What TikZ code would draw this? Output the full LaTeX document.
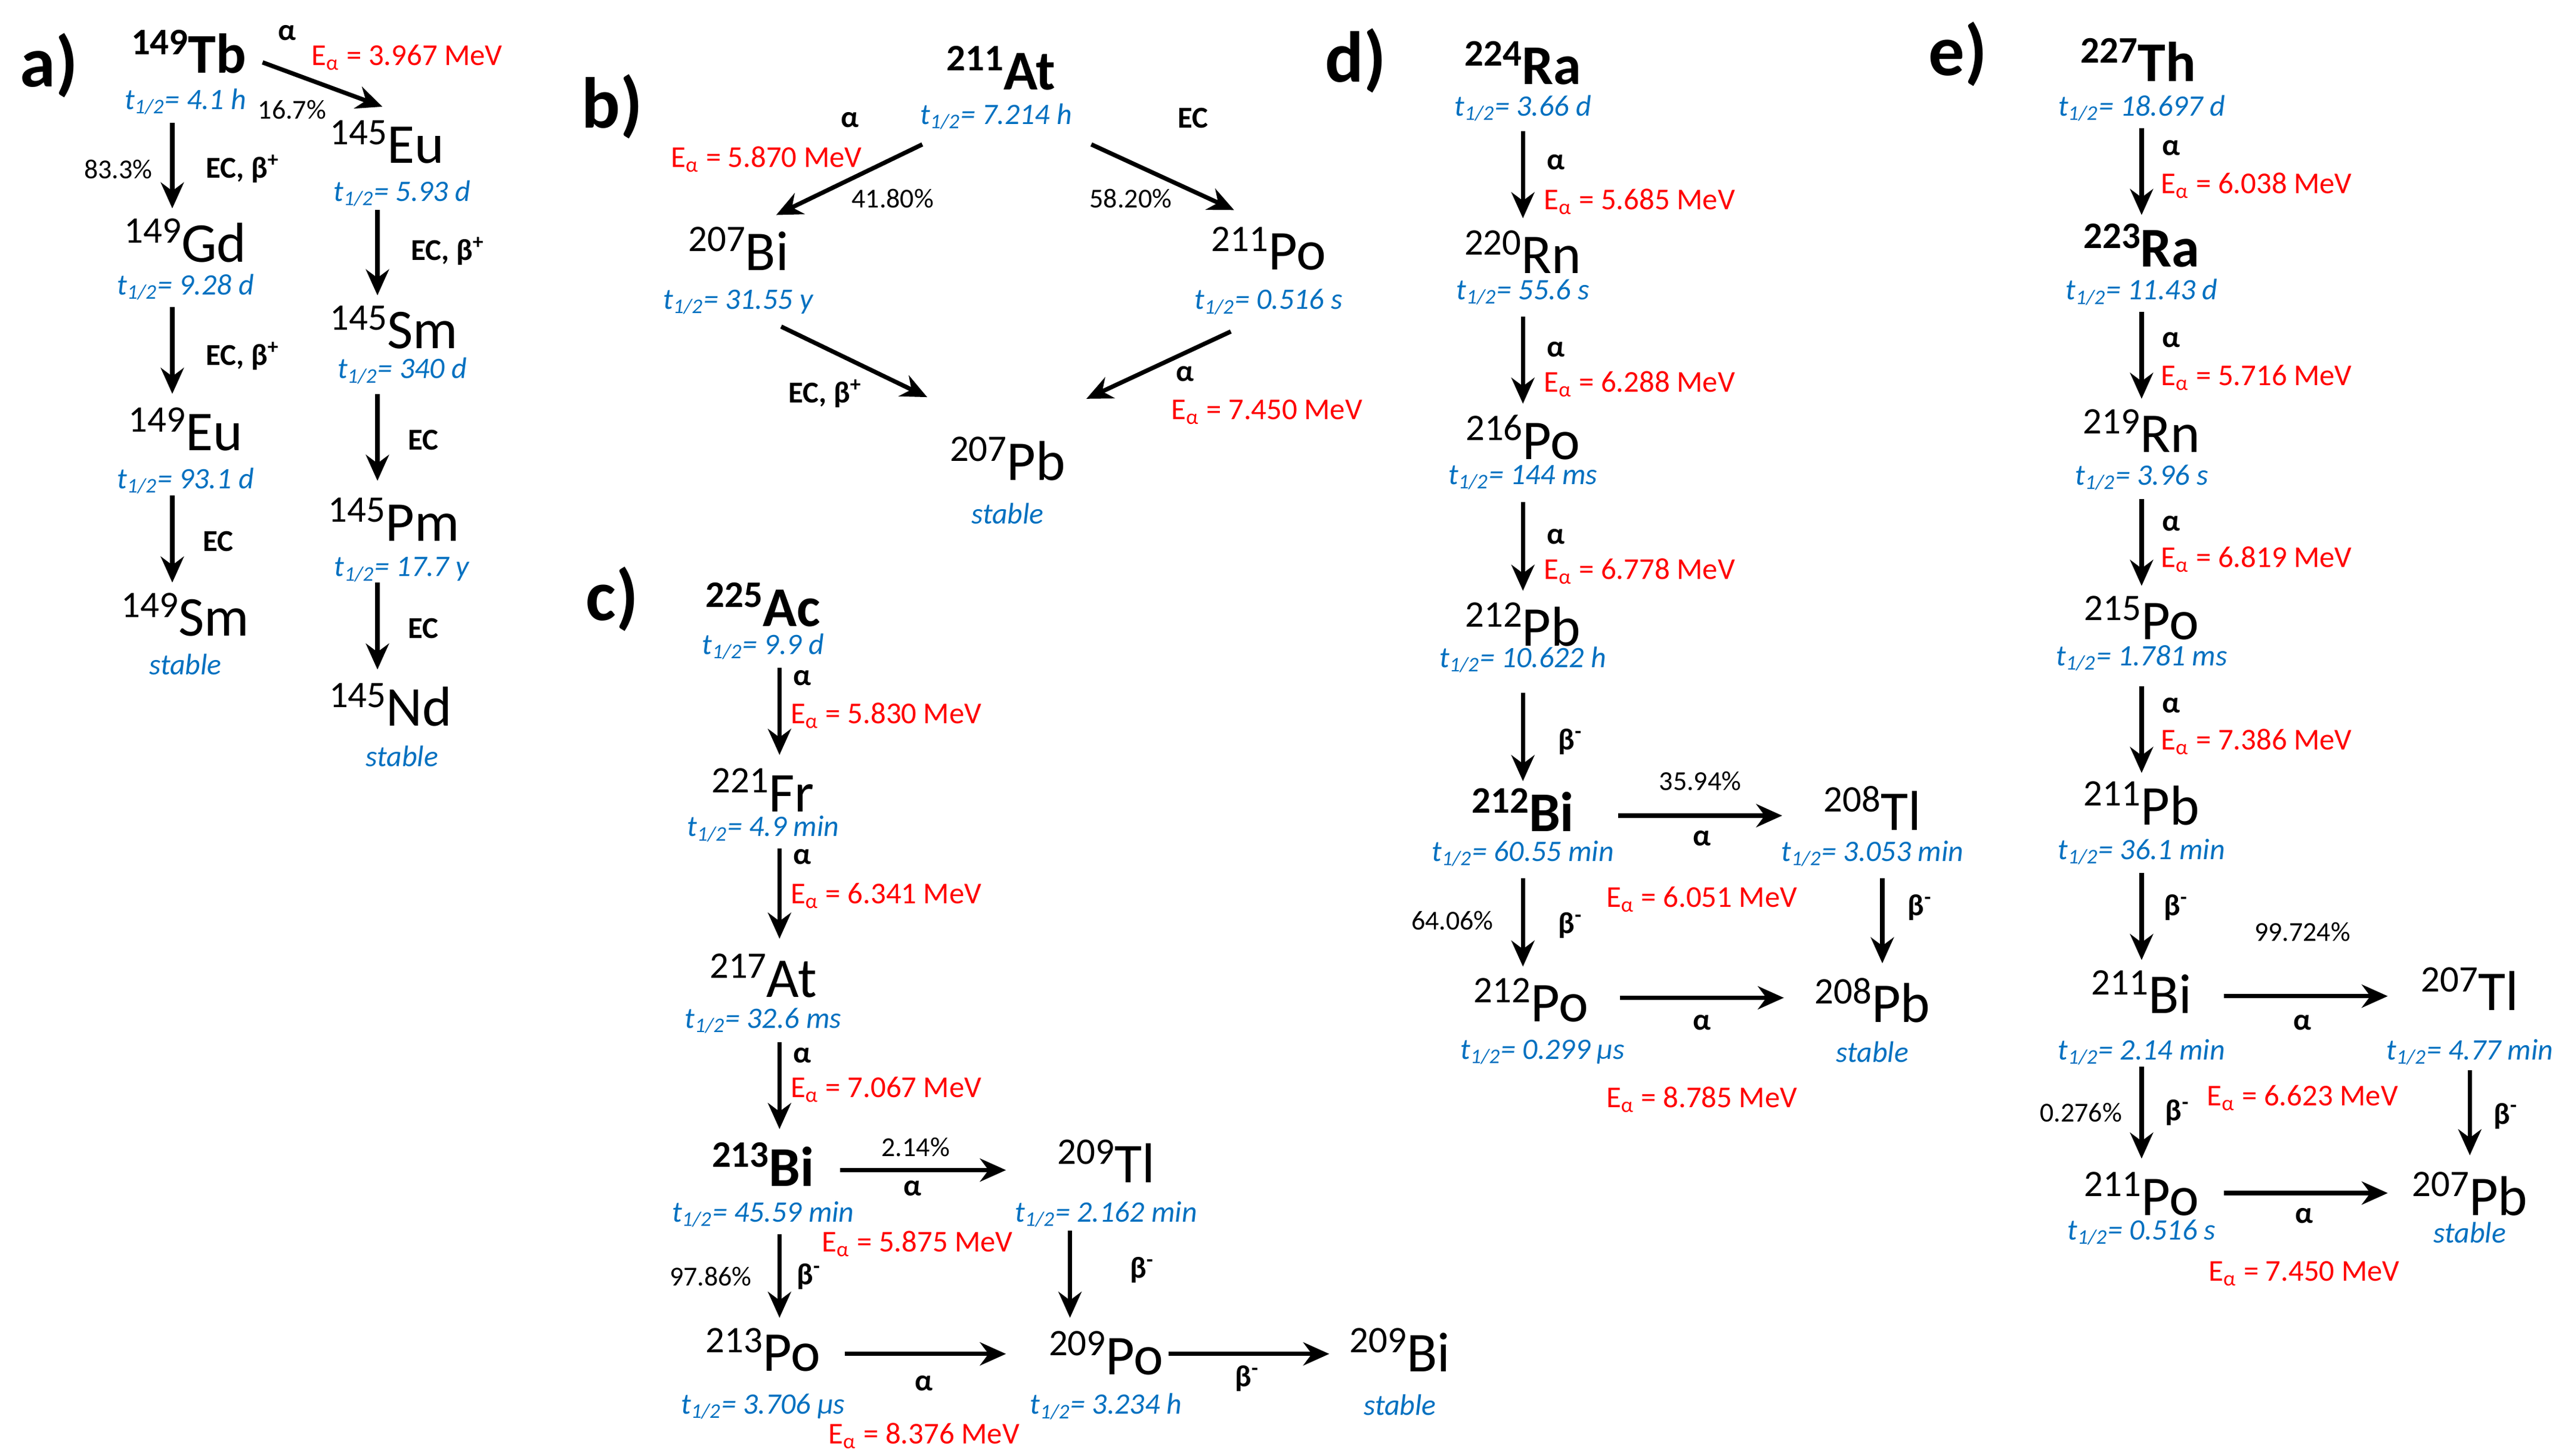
\documentclass[tikz,border=0pt]{standalone}
\usepackage{fontspec}
\setmainfont{Carlito}
\usetikzlibrary{arrows.meta}
\definecolor{hlb}{RGB}{0,112,192}
\definecolor{ear}{RGB}{255,0,0}
\newcommand{\nuc}[2]{{\fontsize{13}{13}\selectfont\raisebox{6.5pt}{#1}}#2}
\newcommand{\hlt}[1]{\textit{t\textsubscript{1/2}}\textit{= #1}}
\newcommand{\ea}[1]{E\textsubscript{α} = #1 MeV}
\begin{document}
\begin{tikzpicture}[x=0.02cm,y=-0.02cm,
  nu/.style={inner sep=0,yshift=0.07cm,font=\fontsize{19.5}{19.5}\selectfont},
  nub/.style={nu,font=\fontsize{19.5}{19.5}\selectfont\bfseries},
  hl/.style={inner sep=0,text=hlb,font=\fontsize{10.3}{10.3}\selectfont},
  ea/.style={inner sep=0,text=ear,font=\fontsize{10.5}{10.5}\selectfont},
  lb/.style={inner sep=0,font=\fontsize{10.5}{10.5}\selectfont\bfseries},
  pc/.style={inner sep=0,font=\fontsize{9.5}{9.5}\selectfont},
  pl/.style={inner sep=0,font=\fontsize{25}{25}\selectfont\bfseries},
  arr/.style={line width=1.5pt,-{Stealth[length=9pt,width=8pt]}}]
\useasboundingbox (0,0) rectangle (1563,887);
% ---------- a
\node[pl] (la) at (30,40) {a)};
\node[nub] (tb) at (115,35) {\nuc{149}{Tb}};
\node[hl] (tbh) at (113,62) {\hlt{4.1 h}};
\node[lb] (tba) at (175,20) {α};
\node[ea] (tbe) at (248,35) {\ea{3.967}};
\node[pc] (tbp) at (178,67) {16.7\%};
\draw[arr] (160,38) -- (233,65);
\node[nu] (eu145) at (236,90) {\nuc{145}{Eu}};
\node[hl] (eu145h) at (245,118) {\hlt{5.93 d}};
\draw[arr] (105,75) -- (105,127);
\node[pc] (p833) at (72,103) {83.3\%};
\node[lb] (l1) at (148,103) {EC, β\textsuperscript{+}};
\node[nu] (gd) at (113,150) {\nuc{149}{Gd}};
\node[hl] (gdh) at (113,175) {\hlt{9.28 d}};
\draw[arr] (105,187) -- (105,240);
\node[lb] (l2) at (148,217) {EC, β\textsuperscript{+}};
\node[nu] (eu149) at (113,265) {\nuc{149}{Eu}};
\node[hl] (eu149h) at (113,293) {\hlt{93.1 d}};
\draw[arr] (105,302) -- (105,355);
\node[lb] (l3) at (133,330) {EC};
\node[nu] (sm149) at (113,378) {\nuc{149}{Sm}};
\node[hl] (sm149h) at (113,405) {\textit{stable}};
\draw[arr] (230,128) -- (230,180);
\node[lb] (l4) at (273,153) {EC, β\textsuperscript{+}};
\node[nu] (sm145) at (240,203) {\nuc{145}{Sm}};
\node[hl] (sm145h) at (245,226) {\hlt{340 d}};
\draw[arr] (230,240) -- (230,293);
\node[lb] (l5) at (258,268) {EC};
\node[nu] (pm) at (240,320) {\nuc{145}{Pm}};
\node[hl] (pmh) at (245,347) {\hlt{17.7 y}};
\draw[arr] (230,355) -- (230,408);
\node[lb] (l6) at (258,383) {EC};
\node[nu] (nd) at (238,433) {\nuc{145}{Nd}};
\node[hl] (ndh) at (245,461) {\textit{stable}};
% ---------- b
\node[pl] (lbb) at (373,65) {b)};
\node[nub] (at211) at (610,45) {\nuc{211}{At}};
\node[hl] (at211h) at (607,71) {\hlt{7.214 h}};
\node[lb] (b1) at (518,73) {α};
\node[ea] (b2) at (467,97) {\ea{5.870}};
\draw[arr] (562,88) -- (473,131);
\node[pc] (b3) at (544,121) {41.80\%};
\node[lb] (b4) at (727,72) {EC};
\draw[arr] (665,88) -- (752,128);
\node[pc] (b5) at (689,121) {58.20\%};
\node[nu] (bi207) at (450,155) {\nuc{207}{Bi}};
\node[hl] (bi207h) at (450,184) {\hlt{31.55 y}};
\node[nu] (po211b) at (773,155) {\nuc{211}{Po}};
\node[hl] (po211bh) at (773,184) {\hlt{0.516 s}};
\draw[arr] (476,199) -- (565,242);
\node[lb] (b6) at (503,240) {EC, β\textsuperscript{+}};
\draw[arr] (750,202) -- (662,243);
\node[lb] (b7) at (722,228) {α};
\node[ea] (b8) at (772,251) {\ea{7.450}};
\node[nu] (pb207b) at (614,283) {\nuc{207}{Pb}};
\node[hl] (pb207bh) at (614,313) {\textit{stable}};
% ---------- c
\node[pl] (lc) at (373,365) {c)};
\node[nub] (ac) at (465,372) {\nuc{225}{Ac}};
\node[hl] (ach) at (465,394) {\hlt{9.9 d}};
\draw[arr] (475,407) -- (475,460);
\node[lb] (c1) at (489,413) {α};
\node[ea] (c2) at (540,436) {\ea{5.830}};
\node[nu] (fr) at (465,485) {\nuc{221}{Fr}};
\node[hl] (frh) at (465,505) {\hlt{4.9 min}};
\draw[arr] (475,517) -- (475,572);
\node[lb] (c3) at (489,522) {α};
\node[ea] (c4) at (540,546) {\ea{6.341}};
\node[nu] (at217) at (465,598) {\nuc{217}{At}};
\node[hl] (at217h) at (465,622) {\hlt{32.6 ms}};
\draw[arr] (475,635) -- (475,688);
\node[lb] (c5) at (489,643) {α};
\node[ea] (c6) at (540,664) {\ea{7.067}};
\node[nub] (bi213) at (465,713) {\nuc{213}{Bi}};
\node[hl] (bi213h) at (465,740) {\hlt{45.59 min}};
\draw[arr] (512,713) -- (613,713);
\node[pc] (c7) at (558,699) {2.14\%};
\node[lb] (c8) at (556,724) {α};
\node[ea] (c9) at (559,758) {\ea{5.875}};
\node[nu] (tl209) at (674,711) {\nuc{209}{Tl}};
\node[hl] (tl209h) at (674,740) {\hlt{2.162 min}};
\draw[arr] (652,750) -- (652,803);
\node[lb] (c10) at (696,774) {β\textsuperscript{-}};
\draw[arr] (475,752) -- (475,803);
\node[pc] (c11) at (433,778) {97.86\%};
\node[lb] (c12) at (493,778) {β\textsuperscript{-}};
\node[nu] (po213) at (465,826) {\nuc{213}{Po}};
\node[hl] (po213h) at (465,857) {\hlt{3.706 μs}};
\draw[arr] (515,825) -- (613,825);
\node[lb] (c13) at (563,843) {α};
\node[ea] (c14) at (563,875) {\ea{8.376}};
\node[nu] (po209) at (674,828) {\nuc{209}{Po}};
\node[hl] (po209h) at (674,857) {\hlt{3.234 h}};
\draw[arr] (712,825) -- (810,825);
\node[lb] (c15) at (760,840) {β\textsuperscript{-}};
\node[nu] (bi209) at (853,826) {\nuc{209}{Bi}};
\node[hl] (bi209h) at (853,856) {\textit{stable}};
% ---------- d
\node[pl] (ld) at (826,37) {d)};
\node[nub] (ra224) at (928,42) {\nuc{224}{Ra}};
\node[hl] (ra224h) at (928,66) {\hlt{3.66 d}};
\draw[arr] (928,80) -- (928,133);
\node[lb] (d1) at (948,99) {α};
\node[ea] (d2) at (999,123) {\ea{5.685}};
\node[nu] (rn220) at (928,157) {\nuc{220}{Rn}};
\node[hl] (rn220h) at (928,178) {\hlt{55.6 s}};
\draw[arr] (928,193) -- (928,246);
\node[lb] (d3) at (948,213) {α};
\node[ea] (d4) at (999,234) {\ea{6.288}};
\node[nu] (po216) at (928,270) {\nuc{216}{Po}};
\node[hl] (po216h) at (928,291) {\hlt{144 ms}};
\draw[arr] (928,306) -- (928,360);
\node[lb] (d5) at (948,327) {α};
\node[ea] (d6) at (999,348) {\ea{6.778}};
\node[nu] (pb212) at (928,384) {\nuc{212}{Pb}};
\node[hl] (pb212h) at (928,402) {\hlt{10.622 h}};
\draw[arr] (928,422) -- (928,476);
\node[lb] (d7) at (957,452) {β\textsuperscript{-}};
\node[nub] (bi212) at (928,497) {\nuc{212}{Bi}};
\node[hl] (bi212h) at (928,520) {\hlt{60.55 min}};
\draw[arr] (986,497) -- (1086,497);
\node[pc] (d8) at (1036,476) {35.94\%};
\node[lb] (d9) at (1037,511) {α};
\node[ea] (d10) at (1037,548) {\ea{6.051}};
\node[nu] (tl208) at (1141,496) {\nuc{208}{Tl}};
\node[hl] (tl208h) at (1141,520) {\hlt{3.053 min}};
\draw[arr] (1147,535) -- (1147,587);
\node[lb] (d11) at (1170,553) {β\textsuperscript{-}};
\draw[arr] (928,535) -- (928,589);
\node[pc] (d12) at (885,561) {64.06\%};
\node[lb] (d13) at (957,564) {β\textsuperscript{-}};
\node[nu] (po212) at (933,613) {\nuc{212}{Po}};
\node[hl] (po212h) at (940,641) {\hlt{0.299 μs}};
\draw[arr] (987,608) -- (1087,608);
\node[lb] (d14) at (1037,623) {α};
\node[ea] (d15) at (1037,670) {\ea{8.785}};
\node[nu] (pb208) at (1141,613) {\nuc{208}{Pb}};
\node[hl] (pb208h) at (1141,641) {\textit{stable}};
% ---------- e
\node[pl] (le) at (1193,33) {e)};
\node[nub] (th) at (1303,40) {\nuc{227}{Th}};
\node[hl] (thh) at (1305,66) {\hlt{18.697 d}};
\draw[arr] (1305,78) -- (1305,131);
\node[lb] (e1) at (1323,90) {α};
\node[ea] (e2) at (1375,113) {\ea{6.038}};
\node[nub] (ra223) at (1305,153) {\nuc{223}{Ra}};
\node[hl] (ra223h) at (1305,178) {\hlt{11.43 d}};
\draw[arr] (1305,190) -- (1305,243);
\node[lb] (e3) at (1323,207) {α};
\node[ea] (e4) at (1375,230) {\ea{5.716}};
\node[nu] (rn219) at (1305,266) {\nuc{219}{Rn}};
\node[hl] (rn219h) at (1305,291) {\hlt{3.96 s}};
\draw[arr] (1305,304) -- (1305,357);
\node[lb] (e5) at (1323,319) {α};
\node[ea] (e6) at (1375,341) {\ea{6.819}};
\node[nu] (po215) at (1305,380) {\nuc{215}{Po}};
\node[hl] (po215h) at (1305,401) {\hlt{1.781 ms}};
\draw[arr] (1305,418) -- (1305,471);
\node[lb] (e7) at (1323,430) {α};
\node[ea] (e8) at (1375,452) {\ea{7.386}};
\node[nu] (pb211) at (1305,493) {\nuc{211}{Pb}};
\node[hl] (pb211h) at (1305,519) {\hlt{36.1 min}};
\draw[arr] (1305,532) -- (1305,585);
\node[lb] (e9) at (1326,553) {β\textsuperscript{-}};
\node[nu] (bi211) at (1305,608) {\nuc{211}{Bi}};
\node[hl] (bi211h) at (1305,641) {\hlt{2.14 min}};
\draw[arr] (1355,607) -- (1455,607);
\node[pc] (e10) at (1403,568) {99.724\%};
\node[lb] (e11) at (1403,623) {α};
\node[ea] (e12) at (1403,669) {\ea{6.623}};
\node[nu] (tl207) at (1505,606) {\nuc{207}{Tl}};
\node[hl] (tl207h) at (1505,641) {\hlt{4.77 min}};
\draw[arr] (1505,652) -- (1505,704);
\node[lb] (e13) at (1527,680) {β\textsuperscript{-}};
\draw[arr] (1305,650) -- (1305,706);
\node[pc] (e14) at (1268,678) {0.276\%};
\node[lb] (e15) at (1327,678) {β\textsuperscript{-}};
\node[nu] (po211e) at (1305,731) {\nuc{211}{Po}};
\node[hl] (po211eh) at (1305,751) {\hlt{0.516 s}};
\draw[arr] (1355,727) -- (1455,727);
\node[lb] (e16) at (1404,741) {α};
\node[ea] (e17) at (1404,776) {\ea{7.450}};
\node[nu] (pb207e) at (1505,731) {\nuc{207}{Pb}};
\node[hl] (pb207eh) at (1505,751) {\textit{stable}};
\end{tikzpicture}
\end{document}
